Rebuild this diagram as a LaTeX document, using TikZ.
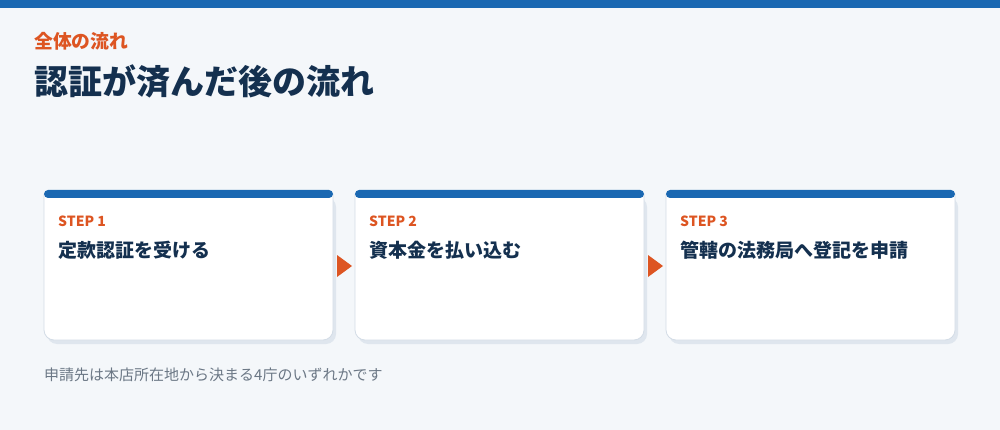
\documentclass[tikz,border=0pt]{standalone}
\usepackage{fontspec}
\setmainfont{Noto Sans CJK JP}
\definecolor{bg}{HTML}{F4F7FA}
\definecolor{topblue}{HTML}{1A68B2}
\definecolor{navy}{HTML}{14304F}
\definecolor{accent}{HTML}{DD5522}
\definecolor{foot}{HTML}{6B7785}
\definecolor{cardline}{HTML}{D3DCE6}
\definecolor{shadowc}{HTML}{DFE6EE}
\begin{document}
\begin{tikzpicture}[x=1pt,y=-1pt,
  txt/.style={inner sep=0pt,anchor=base west},
  steplabel/.style={txt,font=\fontsize{14}{16}\selectfont\bfseries,text=accent},
  steptitle/.style={txt,font=\fontsize{19}{22}\selectfont\bfseries,text=navy},
  flowarrow/.style={fill=accent,draw=none}]
\useasboundingbox (0,0) rectangle (1000,430);
\fill[bg] (0,0) rectangle (1000,430);
\fill[topblue] (0,0) rectangle (1000,8);
\node[txt,font=\fontsize{18.8}{21}\selectfont\bfseries,text=accent] (sub) at (34,48.5) {全体の流れ};
\node[txt,font=\fontsize{34}{38}\selectfont\bfseries,text=navy] (title) at (34,94.5) {認証が済んだ後の流れ};
\foreach \i/\x/\t in {1/44/定款認証を受ける,2/355/資本金を払い込む,3/666/管轄の法務局へ登記を申請}{
  \fill[shadowc,rounded corners=10pt] (\x+3,197) rectangle (\x+292,344);
  \draw[cardline,fill=white,line width=0.8pt] (\x,194) -- (\x,330) arc[start angle=180,end angle=270,radius=10pt] -- (\x+279,340) arc[start angle=270,end angle=360,radius=10pt] -- (\x+289,194);
  \fill[topblue,rounded corners=4pt] (\x,190) rectangle (\x+289,198);
  \node[steplabel] (s\i) at (\x+14,227) {STEP \i};
  \node[steptitle] (t\i) at (\x+14,257) {\t};
}
\fill[flowarrow] (337,255) -- (352,266) -- (337,277) -- cycle;
\fill[flowarrow] (648,255) -- (663,266) -- (648,277) -- cycle;
\node[txt,font=\fontsize{15}{18}\selectfont,text=foot] (note) at (44,380) {申請先は本店所在地から決まる4庁のいずれかです};
\end{tikzpicture}
\end{document}
